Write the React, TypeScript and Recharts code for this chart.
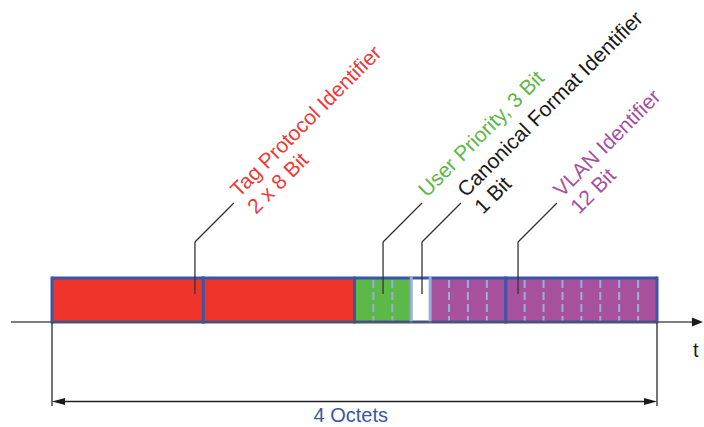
import React from 'react';
import { ComposedChart, Bar, XAxis, YAxis, ReferenceLine, ReferenceDot } from 'recharts';

// ---- data ----
const FIELD_KEYS = ['tpid1', 'tpid2', 'pcp', 'cfi', 'vid1', 'vid2'];
const FIELD_BITS = [8, 8, 3, 1, 4, 8];
const TOTAL_BITS = 32;

const LABEL_LINES = [
  ['Tag Protocol Identifier', '2 x 8 Bit'],
  ['User Priority, 3 Bit'],
  ['Canonical Format Identifier', '1 Bit'],
  ['VLAN Identifier', '12 Bit'],
];
const LEADER_BITS = [7.56, 17.51, 19.57, 24.65];
const LABEL_BITS = [9.89, 19.83, 21.9, 26.98];

const AXIS_START_BIT = -2.17;
const AXIS_END_BIT = 34.43;
const AXIS_LABEL = 't';
const AXIS_LABEL_BIT = 33.9;
const SPAN_LABEL = '4 Octets';
const SPAN_LABEL_BIT = 15.8;

// ---- styles / layout ----
const BLUE = '#3a56a6';
const LIGHT = '#9aaedc';
const FIELD_FILLS = ['#ee342b', '#ee342b', '#5cb848', '#ffffff', '#a7519e', '#a7519e'];
const FIELD_EDGES = [BLUE, BLUE, BLUE, LIGHT, LIGHT, BLUE];
const FIELD_DASHED = [false, false, true, false, true, true];
const LABEL_COLORS = ['#ee3a3a', '#5cb848', '#1a1a1a', '#a7519e'];

const BAR_ROW = 300;
const BAR_SIZE = 44;
const BAR_BOTTOM = 322;
const LEADER_BASE = 294;
const LEADER_ELBOW = 242;
const LEADER_TOP = 203;
const LEADER_RUN = 2.06;
const LABEL_ROW = 198;
const LINE_HEIGHT = 24;
const DIM_BOTTOM = 406;
const DIM_ROW = 401.5;
const AXIS_LABEL_ROW = 357;
const SPAN_LABEL_ROW = 422;
const FONT = '"Liberation Sans", Arial, sans-serif';

const rows = [
  FIELD_KEYS.reduce((acc: any, k, i) => {
    acc[k] = FIELD_BITS[i];
    return acc;
  }, { row: BAR_ROW }),
];

const makeShape = (i: number) => (props: any) => {
  const { x, y, width, height } = props;
  const bits = FIELD_BITS[i];
  const dashes: any[] = [];
  if (FIELD_DASHED[i]) {
    for (let b = 1; b < bits; b++) {
      const lx = x + (width * b) / bits;
      dashes.push(
        <line key={b} x1={lx} x2={lx} y1={y + 2} y2={y + height - 1} stroke={LIGHT} strokeWidth={2} strokeDasharray="8 4" />
      );
    }
  }
  return (
    <g>
      <rect x={x} y={y} width={width} height={height} fill={FIELD_FILLS[i]} />
      {dashes}
      <line x1={x} x2={x + width} y1={y} y2={y} stroke={BLUE} strokeWidth={3} />
      <line x1={x} x2={x + width} y1={y + height} y2={y + height} stroke={BLUE} strokeWidth={3} />
      <line x1={x} x2={x} y1={y - 1.5} y2={y + height + 1.5} stroke={FIELD_EDGES[i]} strokeWidth={3} />
      {i === FIELD_KEYS.length - 1 && (
        <line x1={x + width} x2={x + width} y1={y - 1.5} y2={y + height + 1.5} stroke={BLUE} strokeWidth={3} />
      )}
    </g>
  );
};

const textShape = (lines: string[], color: string, rotate: number, anchor: string, size: number) => (p: any) => (
  <g transform={`translate(${p.cx},${p.cy}) rotate(${rotate})`}>
    <text x={0} y={0} fill={color} fontSize={size} fontFamily={FONT} textAnchor={anchor}>
      {lines.map((l, j) => (
        <tspan key={j} x={0} dy={j === 0 ? 0 : LINE_HEIGHT}>
          {l}
        </tspan>
      ))}
    </text>
  </g>
);

const arrowShape = (dir: number, len: number, half: number) => (p: any) => (
  <polygon
    points={`${p.cx},${p.cy} ${p.cx - dir * len},${p.cy - half} ${p.cx - dir * len},${p.cy + half}`}
    fill="#1a1a1a"
  />
);

export default function App() {
  return (
    <div style={{ position: 'absolute', left: 0, top: 0, width: 704, height: 427, background: '#fff' }}>
      <ComposedChart
        layout="vertical"
        width={704}
        height={427}
        data={rows}
        margin={{ top: 0, right: 47, bottom: 27, left: 52 }}
      >
        <XAxis type="number" domain={[0, TOTAL_BITS]} hide />
        <YAxis type="number" dataKey="row" domain={[0, 400]} hide />

        {/* time axis */}
        <ReferenceLine
          segment={[{ x: AXIS_START_BIT, y: BAR_BOTTOM }, { x: AXIS_END_BIT - 0.3, y: BAR_BOTTOM }]}
          stroke="#555"
          strokeWidth={1.5}
          ifOverflow="visible"
        />
        <ReferenceDot x={AXIS_END_BIT} y={BAR_BOTTOM} r={0} ifOverflow="visible" shape={arrowShape(1, 11, 4.5)} />

        {FIELD_KEYS.map((k, i) => (
          <Bar key={k} dataKey={k} stackId="tag" barSize={BAR_SIZE} isAnimationActive={false} shape={makeShape(i)} />
        ))}

        {/* leaders */}
        {LEADER_BITS.map((b, i) => (
          <ReferenceLine
            key={`lv${i}`}
            segment={[{ x: b, y: LEADER_BASE }, { x: b, y: LEADER_ELBOW }]}
            stroke="#333"
            strokeWidth={1.3}
            ifOverflow="visible"
          />
        ))}
        {LEADER_BITS.map((b, i) => (
          <ReferenceLine
            key={`ld${i}`}
            segment={[{ x: b, y: LEADER_ELBOW }, { x: b + LEADER_RUN, y: LEADER_TOP }]}
            stroke="#333"
            strokeWidth={1.3}
            ifOverflow="visible"
          />
        ))}
        {LABEL_BITS.map((b, i) => (
          <ReferenceDot
            key={`lt${i}`}
            x={b}
            y={LABEL_ROW}
            r={0}
            ifOverflow="visible"
            shape={textShape(LABEL_LINES[i], LABEL_COLORS[i], -45, 'start', 21)}
          />
        ))}

        {/* dimension */}
        <ReferenceLine
          segment={[{ x: 0, y: BAR_BOTTOM }, { x: 0, y: DIM_BOTTOM }]}
          stroke="#444"
          strokeWidth={1.5}
          ifOverflow="visible"
        />
        <ReferenceLine
          segment={[{ x: TOTAL_BITS, y: BAR_BOTTOM }, { x: TOTAL_BITS, y: DIM_BOTTOM }]}
          stroke="#444"
          strokeWidth={1.5}
          ifOverflow="visible"
        />
        <ReferenceLine
          segment={[{ x: 0.3, y: DIM_ROW }, { x: TOTAL_BITS - 0.3, y: DIM_ROW }]}
          stroke="#222"
          strokeWidth={1.5}
          ifOverflow="visible"
        />
        <ReferenceDot x={0} y={DIM_ROW} r={0} ifOverflow="visible" shape={arrowShape(-1, 13, 3.5)} />
        <ReferenceDot x={TOTAL_BITS} y={DIM_ROW} r={0} ifOverflow="visible" shape={arrowShape(1, 13, 3.5)} />

        <ReferenceDot
          x={AXIS_LABEL_BIT}
          y={AXIS_LABEL_ROW}
          r={0}
          ifOverflow="visible"
          shape={textShape([AXIS_LABEL], '#1a1a1a', 0, 'start', 20)}
        />
        <ReferenceDot
          x={SPAN_LABEL_BIT}
          y={SPAN_LABEL_ROW}
          r={0}
          ifOverflow="visible"
          shape={textShape([SPAN_LABEL], BLUE, 0, 'middle', 20)}
        />
      </ComposedChart>
    </div>
  );
}
